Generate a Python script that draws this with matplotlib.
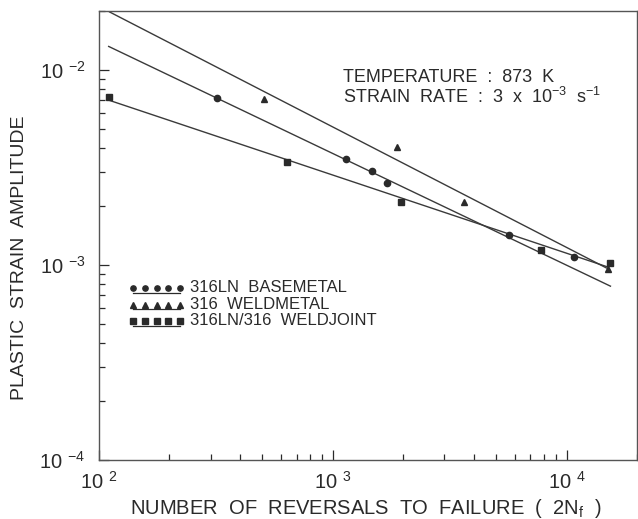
#!/usr/bin/env python3
"""
Low-cycle fatigue: plastic strain amplitude vs reversals to failure (log-log).

    python plot.py
"""
import matplotlib
matplotlib.use("Agg")
import matplotlib.pyplot as plt  # noqa: E402
import numpy as np  # noqa: E402
from matplotlib.ticker import LogLocator, FixedLocator, FixedFormatter, NullFormatter  # noqa: E402

plt.rcParams["font.family"] = ["Liberation Sans", "DejaVu Sans"]
plt.rcParams["mathtext.fontset"] = "custom"
plt.rcParams["mathtext.rm"] = "Liberation Sans"
plt.rcParams["mathtext.it"] = "Liberation Sans"
plt.rcParams["mathtext.bf"] = "Liberation Sans"

INK, LINE = "#2a2a2a", "#3a3a3a"

# 316LN base metal
base_n = [321, 1143, 1472, 1706, 5660, 10720]
base_eps = [0.00718, 0.00350, 0.00303, 0.00264, 0.001425, 0.00110]
# 316 weld metal
weld_n = [510, 1884, 3640, 15000]
weld_eps = [0.00710, 0.00403, 0.00210, 0.00096]
# 316LN/316 weld joint
joint_n = [110, 640, 1960, 7740, 15400]
joint_eps = [0.00727, 0.00337, 0.00210, 0.00119, 0.00102]

# fitted power laws  eps = coef * (2Nf)^expo
fit_coef = {"base": 0.1955, "weld": 0.365, "joint": 0.0462}
fit_expo = {"base": -0.573, "weld": -0.618, "joint": -0.401}
fit_range = {"base": (110, 15400), "weld": (111, 14800), "joint": (109, 15000)}

legend_labels = ["316LN  BASEMETAL", "316  WELDMETAL", "316LN/316  WELDJOINT"]
legend_markers = ["o", "^", "s"]

xticks = [1e2, 1e3, 1e4]
xticklabels = ["10 $^{2}$", "10 $^{3}$", "10 $^{4}$"]
yticks = [1e-4, 1e-3, 1e-2]
yticklabels = ["10 $^{-4}$", "10 $^{-3}$", "10 $^{-2}$"]

fig = plt.figure(figsize=(6.38, 5.19), dpi=100)
ax = fig.add_axes([99 / 638, 1 - 460 / 519, 538 / 638, 449 / 519])
ax.set_xscale("log"); ax.set_yscale("log")
ax.set_xlim(100, 2e4); ax.set_ylim(1e-4, 2.01e-2)

for key in ("weld", "base", "joint"):
    x = np.array(fit_range[key], dtype=float)
    ax.plot(x, fit_coef[key] * x ** fit_expo[key], color=LINE, lw=1.0, zorder=2)

ax.plot(base_n, base_eps, "o", color=INK, ms=4.5, ls="none", zorder=3)
ax.plot(weld_n, weld_eps, "^", color=INK, ms=4.0, ls="none", zorder=3)
ax.plot(joint_n, joint_eps, "s", color=INK, ms=4.2, ls="none", zorder=3)

# hand-drawn style legend: five markers over an underline
for i, (lab, mk) in enumerate(zip(legend_labels, legend_markers)):
    yy = 1 - (288 + 16.5 * i - 11) / 449
    xs = (np.linspace(133, 180, 5) - 99) / 538
    ax.plot(xs, [yy] * 5, mk, color=INK, ms=3.8, transform=ax.transAxes, clip_on=False)
    ax.plot([xs[0], xs[-1]], [yy - 4.5 / 449] * 2, color=INK, lw=0.9, transform=ax.transAxes)
    ax.text((190 - 99) / 538, yy, lab, transform=ax.transAxes, fontsize=12,
            va="center", ha="left", color=INK)

ax.text((343 - 99) / 538, 1 - (78 - 11) / 449, "TEMPERATURE  :  873  K", transform=ax.transAxes,
        fontsize=13, va="center", ha="left", color=INK)
ax.text((343 - 99) / 538, 1 - (97 - 11) / 449, r"STRAIN  RATE  :  3  x  10$^{-3}$  s$^{-1}$",
        transform=ax.transAxes, fontsize=13, va="center", ha="left", color=INK)

ax.xaxis.set_major_locator(FixedLocator(xticks))
ax.xaxis.set_major_formatter(FixedFormatter(xticklabels))
ax.yaxis.set_major_locator(FixedLocator(yticks))
ax.yaxis.set_major_formatter(FixedFormatter(yticklabels))
for a in (ax.xaxis, ax.yaxis):
    a.set_minor_locator(LogLocator(base=10, subs=np.arange(2, 10)))
    a.set_minor_formatter(NullFormatter())
ax.tick_params(which="both", direction="in", top=False, right=False, colors=INK, width=0.9)
ax.tick_params(which="major", length=7, labelsize=14.5)
ax.tick_params(axis="x", which="major", pad=8)
ax.tick_params(axis="y", which="major", pad=10)
ax.tick_params(which="minor", length=4.5)
for s in ax.spines.values():
    s.set_color("#555555"); s.set_linewidth(1.0)

fig.text(366 / 638, 1 - 508.5 / 519, r"NUMBER  OF  REVERSALS  TO  FAILURE  (  2N$_{f}$  )",
         fontsize=14.5, ha="center", va="center", color=INK)
fig.text(20 / 638, 1 - 258 / 519, "PLASTIC  STRAIN  AMPLITUDE", rotation=90,
         fontsize=14, ha="center", va="center", color=INK)

fig.savefig("out.png", dpi=100)
